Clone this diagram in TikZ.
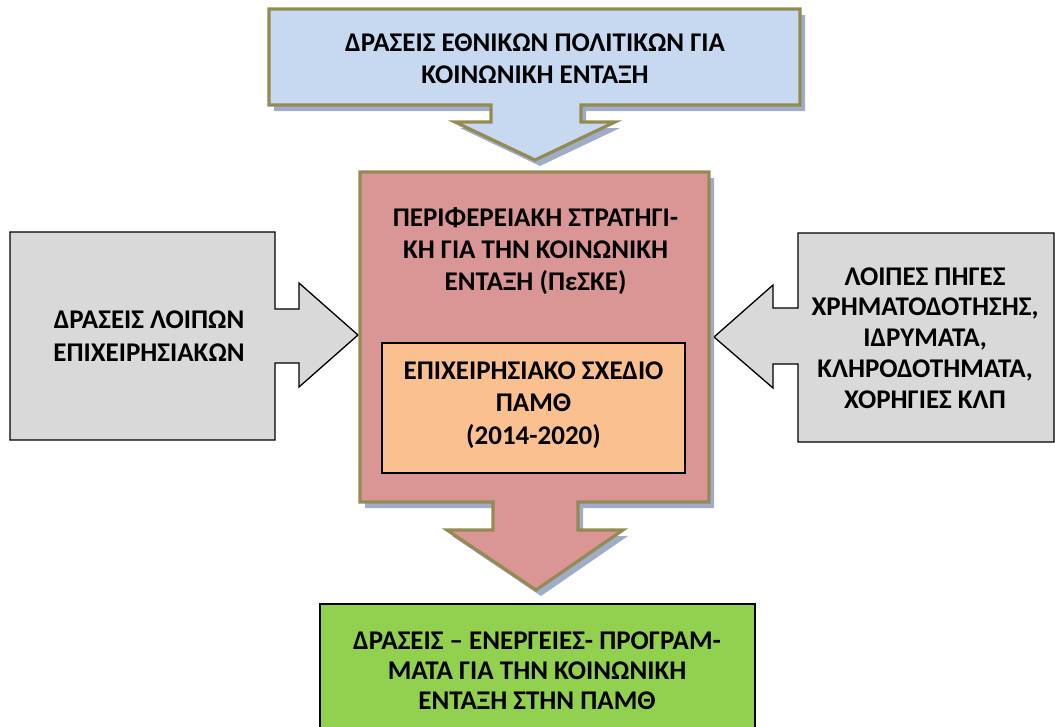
\documentclass[tikz,border=0pt]{standalone}
\usepackage{fontspec}
\setmainfont{Carlito}
\usetikzlibrary{shadows}
\definecolor{topfill}{HTML}{C6D9F1}
\definecolor{olivec}{HTML}{948A54}
\definecolor{midfill}{HTML}{D99694}
\definecolor{innerfill}{HTML}{FAC090}
\definecolor{grayfill}{HTML}{D9D9D9}
\definecolor{greenfill}{HTML}{92D050}
\definecolor{shadowc}{HTML}{95A5C0}
\tikzset{
  olivebox/.style={draw=olivec, line width=3.2pt, line join=miter,
    drop shadow={shadow xshift=5pt, shadow yshift=-6pt, fill=shadowc, opacity=0.9}},
  blackbox/.style={draw=black, line width=1.3pt, line join=miter},
  lbl/.style={inner sep=0pt, align=center, font=\fontsize{27}{32.3}\selectfont\bfseries}
}
\begin{document}
\begin{tikzpicture}[x=1pt,y=-1pt]
\useasboundingbox (0,0) rectangle (1055,726);
% left callout
\path[blackbox, fill=grayfill] (10,232) -- (275,232) -- (275,309) -- (299,309) -- (299,283) -- (358,335) -- (299,387) -- (299,363) -- (275,363) -- (275,440) -- (10,440) -- cycle;
% right callout
\path[blackbox, fill=grayfill] (1054,233) -- (798,233) -- (798,308) -- (773,308) -- (773,285) -- (714,337) -- (773,388) -- (773,364) -- (798,364) -- (798,442) -- (1054,442) -- cycle;
% top callout
\path[olivebox, fill=topfill] (269,9) -- (800,9) -- (800,105) -- (581,105) -- (581,122) -- (615,122) -- (535,160) -- (455,122) -- (491,122) -- (491,105) -- (269,105) -- cycle;
% middle callout
\path[olivebox, fill=midfill] (360,172) -- (709,172) -- (709,502) -- (578,502) -- (578,530) -- (623,530) -- (536,590) -- (447,530) -- (493,530) -- (493,502) -- (360,502) -- cycle;
% inner box
\path[blackbox, fill=innerfill] (382,343) rectangle (685,473);
% bottom box
\path[blackbox, fill=greenfill] (320,604) rectangle (755,740);
% texts
\node[lbl] (top) at (535,59) {ΔΡΑΣΕΙΣ ΕΘΝΙΚΩΝ ΠΟΛΙΤΙΚΩΝ ΓΙΑ\\ΚΟΙΝΩΝΙΚΗ ΕΝΤΑΞΗ};
\node[lbl] (mid) at (535.5,251) {ΠΕΡΙΦΕΡΕΙΑΚΗ ΣΤΡΑΤΗΓΙ-\\ΚΗ ΓΙΑ ΤΗΝ ΚΟΙΝΩΝΙΚΗ\\ΕΝΤΑΞΗ (ΠεΣΚΕ)};
\node[lbl] (inner) at (533.5,405) {ΕΠΙΧΕΙΡΗΣΙΑΚΟ ΣΧΕΔΙΟ\\ΠΑΜΘ\\(2014-2020)};
\node[lbl] (left) at (149,336) {ΔΡΑΣΕΙΣ ΛΟΙΠΩΝ\\ΕΠΙΧΕΙΡΗΣΙΑΚΩΝ};
\node[lbl, font=\fontsize{27}{30.8}\selectfont\bfseries] (right) at (925,338) {ΛΟΙΠΕΣ ΠΗΓΕΣ\\ΧΡΗΜΑΤΟΔΟΤΗΣΗΣ,\\ΙΔΡΥΜΑΤΑ,\\ΚΛΗΡΟΔΟΤΗΜΑΤΑ,\\ΧΟΡΗΓΙΕΣ ΚΛΠ};
\node[lbl, font=\fontsize{27}{30}\selectfont\bfseries] (bottom) at (537,671) {ΔΡΑΣΕΙΣ – ΕΝΕΡΓΕΙΕΣ- ΠΡΟΓΡΑΜ-\\ΜΑΤΑ ΓΙΑ ΤΗΝ ΚΟΙΝΩΝΙΚΗ\\ΕΝΤΑΞΗ ΣΤΗΝ ΠΑΜΘ};
\end{tikzpicture}
\end{document}
